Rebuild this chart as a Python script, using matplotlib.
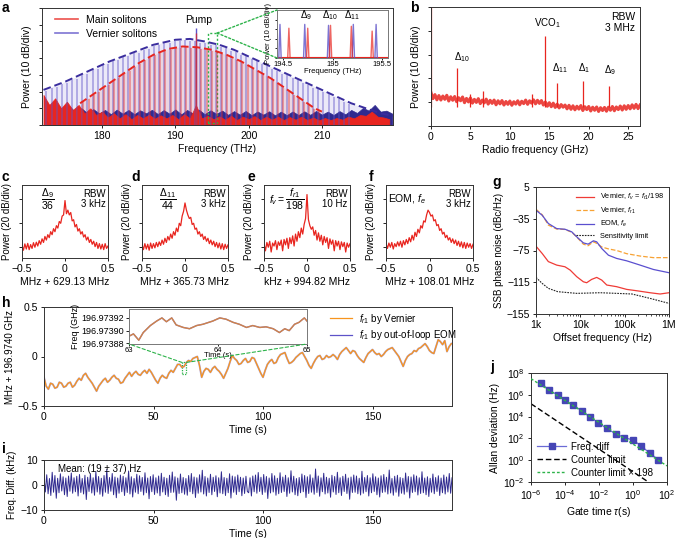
import numpy as np
import matplotlib
matplotlib.use("Agg")
import matplotlib.pyplot as plt
from matplotlib.patches import Rectangle, ConnectionPatch
from matplotlib.ticker import FormatStrFormatter, NullFormatter

plt.rcParams["font.family"] = ["Liberation Sans", "DejaVu Sans"]
plt.rcParams["mathtext.fontset"] = "custom"
plt.rcParams["mathtext.rm"] = "Liberation Sans"
plt.rcParams["mathtext.it"] = "Liberation Sans:italic"
plt.rcParams["font.size"] = 7.5
plt.rcParams["axes.linewidth"] = 0.7
plt.rcParams["axes.edgecolor"] = "#333333"
plt.rcParams["xtick.major.size"] = 2.5
plt.rcParams["ytick.major.size"] = 2.5
plt.rcParams["xtick.major.width"] = 0.6
plt.rcParams["ytick.major.width"] = 0.6
plt.rcParams["xtick.major.pad"] = 2
plt.rcParams["ytick.major.pad"] = 2

RED = "#e8251f"
NAVY = "#2f2a8f"
LBLUE = "#5d52c8"
ORANGE = "#f7941d"
GREEN = "#2db34a"

# ----------------------------
# Data: panel a (optical spectrum)
# ----------------------------
blue_env_f = [172, 175, 178, 181, 184, 187, 190, 192, 194, 196, 198, 200, 202,
              204, 206, 208, 210, 212, 214, 216, 218, 219.7]
blue_env_p = [21, 26, 32, 38, 43, 48, 51, 51.5, 50, 48, 45, 41, 37,
              33, 29, 25, 21, 17, 13, 10, 7, 5.5]
red_env_f = [177, 179, 181, 183, 185, 187, 189, 191, 193, 195, 197, 199, 201,
             203, 205, 207, 209, 210]
red_env_p = [13, 19, 25, 31, 37, 42, 45.5, 47, 46.5, 45, 42, 38, 33,
             28, 22, 16, 10, 8]

blue_line_start = 172.4
red_line_start = 176.75
line_step = 0.7
blue_lines = [20.5, 22, 22.5, 24.6, 25, 27, 27.8, 30, 30.5, 32.8,
              33.5, 35.6, 36.2, 38.2, 38.8, 40.5, 41, 42.8, 43.2, 45,
              45.6, 47.5, 47.6, 48.8, 49.2, 50.2, 50, 50.6, 50.2, 50.4,
              49.2, 49.3, 48, 47.8, 46.5, 46, 44.5, 43.8, 42, 41,
              39.2, 38.2, 36.4, 35.4, 33.6, 32.6, 30.8, 29.8, 28, 27,
              25.2, 24.2, 22.4, 21.4, 19.6, 18.5, 16.8, 15.6, 14, 12.8]
red_lines = [11.5, 13.8, 15.6, 18, 19.8, 22.2, 24, 26.4, 28.2, 30.6,
             32.4, 34.8, 36.5, 38.6, 40, 41.8, 42.9, 44.3, 45, 45.8,
             46, 46.4, 45.8, 46, 45.2, 45, 44.2, 43.5, 42.2, 41.4,
             39.6, 38.6, 36.8, 35.4, 33.3, 31.9, 29.8, 28.4, 26.2, 24.4,
             22, 20.2, 17.8, 16, 13.6, 11.7, 9.4, 8.2]

floor_step = 0.8
red_floor = [18, 12, 16, 10, 14, 9, 12, 7, 10, 6,
             8, 4.5, 7, 4, 6.5, 3.5, 6, 4, 6.2, 3.8,
             5.8, 4, 6, 3.5, 6.5, 4, 12, 4, 5.5, 3.5,
             5.2, 3.2, 5.5, 3, 5, 3.5, 5.3, 3, 5, 3.2,
             5, 3, 4.8, 3.2, 5, 3, 4.5, 2.8, 4.2, 3,
             4.2, 3.2, 5, 4, 6, 5.5, 8, 5, 4.5, 3.5]
blue_floor = [14, 9, 12, 8, 11, 7.5, 10, 7, 9.5, 7,
              9, 6.5, 9.2, 6.8, 9, 6.5, 8.8, 7, 9.1, 6.6,
              8.9, 6.8, 9.3, 6.4, 9, 6.9, 9.2, 6.5, 8.8, 6.7,
              8.6, 6.1, 8.3, 6.2, 8.4, 5.9, 8.1, 6.2, 8.2, 5.8,
              8.0, 5.9, 8.1, 6.0, 8.2, 6.1, 8.4, 6.2, 8.0, 6.0,
              8.3, 6.4, 9.0, 7.2, 10.2, 8.6, 12.0, 8.0, 8.6, 6.8]
pump_f = 192.75
pump_blue = 58
pump_red = 55

# inset of a
inset_blue_f = [194.47, 194.72, 194.96, 195.21, 195.44]
inset_blue_p = [35, 35, 34, 35, 35]
inset_red_f = [194.56, 194.75, 194.98, 195.19, 195.40]
inset_red_p = [31, 31, 34, 33, 28]
inset_labels = [(194.73, r"$\Delta_9$"), (194.97, r"$\Delta_{10}$"),
                (195.20, r"$\Delta_{11}$")]

# ----------------------------
# Data: panel b (RF spectrum)
# ----------------------------
b_step = 0.25
b_floor = [14, 11.5, 13.2, 11, 12.8, 10.9, 12.6, 11.2, 12.9, 10.5, 12.3,
           10.8, 12.4, 10.2, 11.9, 10.6, 12.2, 9.8, 11.6, 10.1, 11.8,
           9.6, 11.2, 9.9, 11.5, 9.4, 10.9, 9.7, 11.3, 9.2, 10.8,
           9.5, 10.9, 8.9, 10.6, 9.3, 10.7, 8.8, 10.3, 9.1, 10.5,
           8.7, 10.2, 9.2, 10.6, 8.9, 10.4, 9.4, 10.9, 9.1, 10.6,
           9.6, 11.0, 9.3, 10.8, 9.5, 10.7, 8.8, 10.1, 8.3, 9.8,
           8.1, 9.6, 7.8, 9.2, 7.6, 9.0, 7.9, 8.8, 7.2, 8.7,
           7.0, 8.5, 6.8, 8.3, 7.1, 8.6, 6.5, 8.1, 6.9, 8.2,
           6.3, 7.9, 6.6, 8.0, 6.1, 7.7, 6.5, 7.8, 6.2, 7.9,
           6.6, 8.2, 6.4, 8.0, 6.9, 8.4, 6.7, 8.5, 7.0, 8.6,
           7.2, 8.9, 7.4, 9.1, 7.3, 8.8]
b_spike_f = [0.02, 3.34, 4.9, 6.6, 12.75, 14.45, 16.0, 19.3, 22.6]
b_spike_p = [52, 24.4, 13.5, 14.7, 13.3, 38, 18, 19, 16.8]
b_labels = [(14.8, 40.5, r"VCO$_1$"), (3.9, 26, r"$\Delta_{10}$"),
            (16.3, 21.5, r"$\Delta_{11}$"), (19.4, 21.5, r"$\Delta_1$"),
            (22.7, 20.5, r"$\Delta_9$")]

# ----------------------------
# Data: panels c-f (beat notes, 61 points over -0.5..0.5)
# ----------------------------
c_vals = [1.5, -2.5, 2.8, -1.5, 3.2, -2, 2.2, -1, 3.8, 0,
          4.2, 1, 5.5, 2.5, 7, 4, 9, 6, 10.5, 8,
          13, 10.5, 15.5, 13, 18, 16, 21.5, 20, 26, 27,
          39, 28, 31, 27, 29, 22, 23, 17, 19, 13.5,
          15.5, 11, 13, 8.5, 10.5, 6, 8.5, 4, 6.5, 2.5,
          5, 0.5, 4, -1, 3, -1.5, 2.5, -2, 3, -1, 1]
d_vals = [2, -2, 3, -1.5, 2.5, -2.5, 3.5, -1, 3, -0.5,
          4, 0.5, 4.5, 1.5, 6, 2.5, 7.5, 4, 9, 6,
          11, 7.5, 13, 10, 16, 13, 20, 18, 26, 30,
          37, 31, 27, 24, 25, 19, 20, 15, 16, 11,
          13, 9, 11, 6.5, 9, 5, 7.5, 3, 6, 2,
          5, 0.5, 4, -0.5, 3.5, -1.5, 3, -2, 2.5, -1, 2]
e_vals = [3, -3, 4, 0, 5, -4, 3.5, 1, 5.5, -2,
          4.5, 1.5, 6, -3, 6.5, 2, 7.5, -1, 8, 3,
          9.5, 1, 11, 5, 13, 8, 16, 11, 19, 24,
          44, 23, 18, 15, 17, 10, 14, 6, 12, 5,
          10, 2, 9, 4, 8, -1, 7, 2.5, 6, -3,
          5.5, 1, 5, -2, 4.5, 0.5, 4, -4, 3.5, 0, 3]
f_vals = [3, -1, 3.5, 0, 4, -1.5, 3, 0.5, 4.5, 1,
          5, 0, 5.5, 2, 6.5, 3, 8, 4.5, 10, 6,
          12.5, 9, 15, 12, 18, 16, 22, 21, 27, 31,
          29, 26, 27, 22, 23, 18, 19, 14, 15.5, 11,
          12.5, 8, 10, 6, 8, 4, 7, 3, 6, 1.5,
          5, 0.5, 4.5, -0.5, 4, -1, 3.5, 0, 3, -1, 2.5]

# ----------------------------
# Data: panel g (phase noise)
# ----------------------------
g_red_f = [1e3, 1.38e3, 1.9e3, 2.93e3, 4.5e3, 5.9e3, 8.3e3, 11.7e3, 13.9e3,
           18e3, 23.4e3, 30.4e3, 39.5e3, 66e3, 111e3, 187e3, 372e3, 630e3, 1e6]
g_red_p = [-69.6, -78.8, -89, -93.4, -95.5, -99.7, -108, -114.4, -115.6,
           -111.4, -108.9, -112.3, -118.5, -120.6, -124, -125.7, -128.2, -129.8, -128.2]
g_blue_f = [1e3, 1.38e3, 1.9e3, 2.93e3, 4.5e3, 6.4e3, 8.3e3, 11.7e3, 15e3,
            19.7e3, 23.4e3, 30.4e3, 43e3, 66e3, 111e3, 223e3, 445e3, 1e6]
g_blue_p = [-24.3, -30.6, -41, -47.4, -48.2, -51.5, -57.8, -65.4, -67,
            -62.8, -64.1, -72.5, -80.9, -85, -88, -93.4, -98.9, -103]
g_orange_f = [1e3, 1.38e3, 1.9e3, 2.93e3, 4.5e3, 6.4e3, 8.3e3, 11.7e3, 15e3,
              19.7e3, 23.4e3, 30.4e3, 43e3, 66e3, 111e3, 223e3, 445e3, 1e6]
g_orange_p = [-23, -30, -43, -48, -48.5, -52, -58, -67, -69,
              -64, -66, -70.5, -73, -75, -79, -82, -84, -84]
g_sens_f = [1e3, 1.38e3, 1.9e3, 3.1e3, 8.3e3, 28e3, 66e3, 146e3, 372e3, 1e6]
g_sens_p = [-108.9, -116.5, -122.7, -126.9, -129, -128.2, -129, -129.8, -135.3, -141.6]

# ----------------------------
# Data: panel h (repetition rate vs time, 1 s steps)
# ----------------------------
h_vals = [-0.21, -0.30, -0.33, -0.27, -0.28, -0.32, -0.31, -0.26, -0.27, -0.31,
          -0.30, -0.27, -0.26, -0.31, -0.29, -0.25, -0.22, -0.24, -0.19, -0.17,
          -0.21, -0.24, -0.27, -0.31, -0.35, -0.30, -0.27, -0.24, -0.22, -0.26,
          -0.24, -0.21, -0.19, -0.22, -0.23, -0.27, -0.26, -0.22, -0.19, -0.16,
          -0.20, -0.17, -0.15, -0.18, -0.19, -0.16, -0.14, -0.17, -0.13, -0.16,
          -0.20, -0.24, -0.27, -0.22, -0.19, -0.21, -0.22, -0.17, -0.14, -0.16,
          -0.12, -0.08, -0.08, -0.11, -0.10, -0.06, -0.04, -0.05, -0.02, -0.01,
          0.00, -0.09, -0.21, -0.15, -0.12, -0.13, -0.16, -0.12, -0.10, -0.13,
          -0.15, -0.18, -0.22, -0.17, -0.12, -0.05, 0.01, -0.02, -0.04, -0.08,
          -0.07, -0.04, -0.02, -0.06, -0.05, -0.01, -0.02, -0.07, -0.12, -0.17,
          -0.21, -0.14, -0.08, -0.05, -0.03, -0.07, -0.06, -0.01, 0.02, 0.03,
          0.04, -0.02, -0.07, -0.06, -0.04, -0.01, 0.01, 0.03, 0.04, 0.00,
          -0.04, -0.09, -0.12, -0.07, -0.03, 0.00, 0.01, -0.03, -0.02, 0.01,
          -0.01, 0.00, 0.02, 0.00, -0.03, 0.02, 0.05, 0.07, 0.09, 0.06,
          0.03, 0.06, 0.05, 0.01, -0.02, -0.04, -0.06, -0.01, 0.03, 0.05,
          0.07, 0.04, 0.02, 0.03, 0.00, 0.02, 0.05, 0.07, 0.08, 0.09,
          0.06, 0.03, 0.00, -0.05, -0.10, -0.04, 0.00, 0.02, 0.03, 0.06,
          0.05, 0.08, 0.09, 0.11, 0.13, 0.10, 0.06, 0.04, 0.03, 0.10,
          0.17, 0.15, 0.12, 0.16, 0.05, 0.10, 0.13]

# inset of h (GHz, 63 s to 65 s)
hi_vals = [196.9738912, 196.9738949, 196.973885, 196.973897, 196.973908,
           196.973915, 196.97392, 196.973914, 196.97392, 196.973909,
           196.973905, 196.973903, 196.973908, 196.97391, 196.973915,
           196.97392, 196.973918, 196.973913, 196.97391, 196.973905,
           196.973908, 196.973905, 196.973906, 196.973903, 196.973897,
           196.973903, 196.9739, 196.97391, 196.973913, 196.97392, 196.973915]
hi_time = [63.0, 63.05, 63.11, 63.16, 63.24, 63.31, 63.37, 63.42, 63.48, 63.53,
           63.61, 63.68, 63.76, 63.83, 63.94, 64.02, 64.09, 64.17, 64.24, 64.32,
           64.39, 64.47, 64.54, 64.62, 64.69, 64.75, 64.8, 64.86, 64.91, 64.97, 65.0]

# ----------------------------
# Data: panel i (frequency difference, kHz)
# ----------------------------
i_vals = [3.2, -2.8, 4.1, -3.5, 2.6, -4.2, 5.1, -2.9, 3.8, -5.3,
          2.7, -3.1, 4.5, -2.4, 3.3, -3.9, 2.8, -4.6, 3.6, -2.5,
          4.8, -3.3, 2.9, -2.7, 3.5, -4.4, 4.2, -3.0, 2.6, -3.6,
          3.9, -5.8, 3.1, -2.6, 4.4, -3.2, 2.9, -4.1, 5.4, -2.8,
          3.4, -3.7, 2.7, -4.5, 3.8, -2.9, 6.2, -3.4, 3.0, -2.5,
          4.6, -3.9, 3.2, -5.1, 2.8, -3.3, 4.0, -2.7, 3.5, -4.2,
          2.9, -3.0, 5.6, -3.6, 3.3, -4.8, 2.6, -2.9, 4.3, -3.5,
          3.7, -2.6, 3.0, -4.0, 4.9, -3.1, 2.8, -5.5, 3.4, -2.7,
          4.1, -3.8, 2.9, -3.2, 3.6, -4.3, 4.7, -2.8, 3.1, -3.9,
          2.7, -4.6, 3.9, -3.0, 5.2, -2.9, 3.3, -6.1, 2.8, -3.4,
          4.4, -3.1, 3.0, -3.7, 2.6, -4.1, 3.8, -2.7, 4.6, -3.5,
          3.2, -5.0, 2.9, -3.3, 4.1, -2.8, 5.9, -3.6, 3.4, -4.4,
          2.8, -3.0, 4.3, -3.9, 3.1, -2.6, 3.7, -4.7, 2.9, -3.2,
          5.3, -3.5, 3.0, -4.2, 2.7, -3.1, 4.5, -5.2, 3.6, -2.9,
          3.3, -3.8, 4.0, -2.7, 3.1, -4.3, 2.8, -3.4, 3.5, -2.6,
          -3.1, 2.9, -4.4, 3.6, -2.7, 4.0, -3.3, 5.0, -2.6, 3.1,
          -3.8, 4.2, -2.9, 3.4, -5.4, 2.8, -3.2, 4.6, -2.8, 3.7,
          -4.1, 2.7, -3.5, 4.9, -3.0, 3.2, -2.6, 3.9, -4.6, 2.9,
          -3.3, 5.7, -2.8, 3.5, -3.9, 2.6, -4.3, 3.0, -3.1, 4.4,
          -2.7, 3.8, -5.0, 3.3, -3.4, 4.1, -2.9, 2.8, -3.7, 6.4,
          -3.0, 3.6, -4.5, 2.9, -2.7, 4.7, -3.6, 3.1, -3.2, 2.7,
          -4.9, 3.9, -2.8, 3.4, -3.8, 5.1, -3.1, 2.9, -4.2, 3.5,
          -2.6, 4.3, -3.4, 2.8, -5.7, 3.2, -3.0, 4.0, -2.9, 3.6,
          -3.5, 2.7, -4.0, 5.5, -3.3, 3.0, -2.7, 3.8, -4.4, 2.9,
          -3.1, 4.5, -2.6, 3.3, -3.9, 2.8, -4.8, 3.7, -3.0, 4.2,
          -2.8, 3.1, -3.6, 6.0, -3.2, 2.6, -4.1, 3.5, -2.9, 3.9,
          -4.5, 3.0, -3.3, 2.7, -3.7, 4.8, -2.8, 3.4, -5.2, 3.2,
          -3.0, 4.1, -2.7, 3.6, -4.0, 2.9, -3.4, 5.3, -3.1, 2.8,
          -3.9, 3.3, -4.6, 2.7, -2.9, 4.4, -3.5, 3.0, -2.6, 3.7,
          -4.2, 2.8, -3.1, 4.0, -3.6, 3.2, -2.8, 4.6, -3.3, 2.9]

# ----------------------------
# Data: panel j (Allan deviation)
# ----------------------------
j_tau = [4e-6, 1.2e-5, 3.7e-5, 1e-4, 3.1e-4, 9.5e-4, 3e-3, 9e-3, 2.8e-2,
         0.1, 0.31, 1.0, 3.1, 10, 31]
j_adev = [1.2e7, 2.5e6, 1e6, 3e5, 1.2e5, 3.3e4, 8.7e3, 2.8e3, 8.3e2,
          2.5e2, 1.2e2, 7e1, 2e1, 4.2, 1.15]
j_counter_tau = [1e-6, 8]
j_counter = [1.5e5, 1e-2]
j_counter198_tau = [1e-6, 100]
j_counter198 = [3e7, 0.3]

# ----------------------------
# Figure
# ----------------------------
W, H = 675, 538
fig = plt.figure(figsize=(W / 100, H / 100), dpi=100)


def box(l, t, r, b):
    return fig.add_axes([l / W, 1 - b / H, (r - l) / W, (b - t) / H])


def panel_label(x, y, s):
    fig.text(x / W, 1 - y / H, s, fontsize=10, fontweight="bold",
             ha="left", va="center")


# ---- a ----
ax = box(42, 8, 393, 125)
ax.fill_between(blue_env_f, 0, blue_env_p, color=LBLUE, alpha=0.12, lw=0)
ax.fill_between(red_env_f, 0, red_env_p, color=RED, alpha=0.10, lw=0)
fx = [172 + 0.4 + floor_step * k for k in range(len(blue_floor))]
ax.fill_between(fx, 0, blue_floor, color=NAVY, lw=0.5)
bx = [blue_line_start + line_step * k for k in range(len(blue_lines))]
ax.vlines(bx, 0, blue_lines, color=LBLUE, lw=1.3, alpha=0.45)
rx = [red_line_start + line_step * k for k in range(len(red_lines))]
ax.vlines(rx, 0, red_lines, color=RED, lw=1.3, alpha=0.4)
fx = [172 + floor_step * k for k in range(len(red_floor))]
ax.fill_between(fx, 0, red_floor, color=RED, lw=0.5)
ax.vlines([pump_f], 0, [pump_blue], color=LBLUE, lw=1.0)
ax.vlines([pump_f + 0.1], 0, [pump_red], color=RED, lw=1.0, alpha=0.7)
ax.plot(blue_env_f, blue_env_p, "--", color="#3a2d9e", lw=1.4, dashes=(4, 2))
ax.plot(red_env_f, red_env_p, "--", color=RED, lw=1.4, dashes=(4, 2))
ax.plot([], [], color=RED, lw=1.2, alpha=0.8, label="Main solitons")
ax.plot([], [], color=LBLUE, lw=1.2, alpha=0.8, label="Vernier solitons")
ax.legend(loc="upper left", bbox_to_anchor=(0.01, 1.02), frameon=False,
          fontsize=7.5, handlelength=2.2, labelspacing=0.35)
ax.text(pump_f + 0.4, 60, "Pump", ha="center", va="bottom", fontsize=7.5)
ax.add_patch(Rectangle((194.5, 1), 1.2, 54, fill=False, ec=GREEN,
                       ls=(0, (1.5, 1.5)), lw=1.0))
ax.set_xlim(171.8, 219.7)
ax.set_ylim(0, 70)
ax.set_xticks([180, 190, 200, 210])
ax.set_yticks(range(0, 71, 10))
ax.set_yticklabels([])
ax.set_xlabel("Frequency (THz)", labelpad=2)
ax.set_ylabel("Power (10 dB/div)", labelpad=3)
ax_a = ax

axi = box(277, 10, 388, 58)
axi.plot([194.44, 195.56], [1, 1], color=RED, lw=0.8)
for c, p in zip(inset_blue_f, inset_blue_p):
    axi.plot([c - 0.012, c, c + 0.012], [0, p, 0], color=LBLUE, lw=1.0, alpha=0.8)
for c, p in zip(inset_red_f, inset_red_p):
    axi.plot([c - 0.012, c, c + 0.012], [0, p, 0], color=RED, lw=1.0, alpha=0.7)
for x, s in inset_labels:
    axi.text(x, 38, s, ha="center", va="bottom", fontsize=7)
axi.set_xlim(194.44, 195.56)
axi.set_ylim(0, 50)
axi.set_xticks([194.5, 195, 195.5])
axi.set_xticklabels(["194.5", "195", "195.5"])
axi.set_yticks(range(0, 51, 10))
axi.set_yticklabels([])
axi.tick_params(labelsize=5.5, length=1.5, pad=1)
axi.set_xlabel("Frequency (THz)", fontsize=5.5, labelpad=0)
axi.set_ylabel("Power (10 dB/div)", fontsize=5.5, labelpad=1)
for spine in axi.spines.values():
    spine.set_edgecolor("#777777")
for yb in (1.0, 0.0):
    con = ConnectionPatch(xyA=(195.7, 55), coordsA="data", axesA=ax_a,
                          xyB=(0, yb), coordsB="axes fraction", axesB=axi,
                          color=GREEN, ls=(0, (1.5, 1.5)), lw=1.0)
    fig.add_artist(con)

# ---- b ----
ax = box(431, 7, 640, 126)
bfx = [b_step * k for k in range(len(b_floor))]
ax.plot(bfx, b_floor, color=RED, lw=2.2, alpha=0.85)
ax.vlines(b_spike_f, 8, b_spike_p, color=RED, lw=0.9)
for x, y, s in b_labels:
    ax.text(x, y, s, ha="center", va="bottom", fontsize=7)
ax.text(0.975, 0.96, "RBW\n3 MHz", transform=ax.transAxes, ha="right",
        va="top", fontsize=7.5, linespacing=1.1)
ax.set_xlim(0, 26.5)
ax.set_ylim(0, 50)
ax.set_xticks([0, 5, 10, 15, 20, 25])
ax.set_yticks(range(0, 51, 10))
ax.set_yticklabels([])
ax.set_xlabel("Radio frequency (GHz)", labelpad=2)
ax.set_ylabel("Power (10 dB/div)", labelpad=3)

# ---- c-f ----
beat_panels = [
    ((22, 185, 108, 258), c_vals, r"$\dfrac{\Delta_9}{36}$", (0.30, 0.80),
     "RBW\n3 kHz", "MHz + 629.13 MHz"),
    ((142, 185, 228, 258), d_vals, r"$\dfrac{\Delta_{11}}{44}$", (0.30, 0.80),
     "RBW\n3 kHz", "MHz + 365.73 MHz"),
    ((264, 185, 350, 258), e_vals, r"$f_v=\dfrac{f_{r1}}{198}$", (0.26, 0.80),
     "RBW\n10 Hz", "kHz + 994.82 MHz"),
    ((386, 185, 473, 258), f_vals, r"EOM, $f_e$", (0.24, 0.80),
     "RBW\n3 kHz", "MHz + 108.01 MHz"),
]
for rect, vals, lab, lpos, rbw, xl in beat_panels:
    ax = box(*rect)
    xs = np.linspace(-0.5, 0.5, len(vals))
    ax.plot(xs, vals, color=RED, lw=0.9)
    ax.text(lpos[0], lpos[1], lab, transform=ax.transAxes, ha="center",
            va="center", fontsize=7.5)
    ax.text(0.97, 0.95, rbw, transform=ax.transAxes, ha="right", va="top",
            fontsize=7, linespacing=1.1)
    ax.set_xlim(-0.5, 0.5)
    ax.set_ylim(-9, 52)
    ax.set_xticks([-0.5, 0, 0.5])
    ax.set_xticklabels(["\u22120.5", "0", "0.5"])
    ax.set_yticks([0, 20, 40])
    ax.set_yticklabels([])
    ax.set_xlabel(xl, labelpad=2)
    ax.set_ylabel("Power (20 dB/div)", labelpad=3, fontsize=7)

# ---- g ----
ax = box(536, 187, 669, 314)
ax.plot(g_red_f, g_red_p, color="#ef3b36", lw=0.9,
        label=r"Vernier, $f_v$ = $f_{r1}$/198")
ax.plot(g_orange_f, g_orange_p, "--", color="#f7a234", lw=0.9,
        label=r"Vernier, $f_{r1}$")
ax.plot(g_blue_f, g_blue_p, color="#5a4fcf", lw=0.9, label=r"EOM, $f_e$")
ax.plot(g_sens_f, g_sens_p, color="#222222", lw=0.8, ls=(0, (1.5, 1)),
        label="Sensitivity limit")
ax.set_xscale("log")
ax.set_xlim(1e3, 1e6)
ax.set_ylim(-155, 5)
ax.set_yticks([5, -35, -75, -115, -155])
ax.set_yticklabels(["5", "\u221235", "\u221275", "\u2212115", "\u2212155"])
ax.set_xticks([1e3, 1e4, 1e5, 1e6])
ax.set_xticklabels(["1k", "10k", "100k", "1M"])
ax.xaxis.set_minor_formatter(NullFormatter())
ax.tick_params(which="minor", length=1.5, width=0.5)
ax.legend(loc="upper right", frameon=False, fontsize=5.3, handlelength=2.5,
          labelspacing=0.45, borderaxespad=0.3)
ax.set_xlabel("Offset frequency (Hz)", labelpad=2)
ax.set_ylabel("SSB phase noise (dBc/Hz)", labelpad=2, fontsize=7)

# ---- h ----
ax = box(44, 307, 452, 406)
ht = np.arange(len(h_vals))
ax.plot(ht, h_vals, color=LBLUE, lw=1.4, alpha=0.5)
ax.plot(ht, h_vals, color=ORANGE, lw=0.9)
ax.plot([], [], color=ORANGE, lw=0.9, label=r"$f_{r1}$ by Vernier")
ax.plot([], [], color=LBLUE, lw=0.9, label=r"$f_{r1}$ by out-of-loop EOM")
ax.legend(loc="upper left", bbox_to_anchor=(0.68, 1.04), frameon=False,
          fontsize=7, handlelength=2.2, labelspacing=0.25)
ax.add_patch(Rectangle((63, -0.18), 2, 0.12, fill=False, ec=GREEN,
                       ls=(0, (1, 1)), lw=0.9))
ax.set_xlim(0, 186.3)
ax.set_ylim(-0.5, 0.5)
ax.set_xticks([0, 50, 100, 150])
ax.set_yticks([-0.5, 0, 0.5])
ax.set_yticklabels(["\u22120.5", "0", "0.5"])
ax.set_xlabel("Time (s)", labelpad=2)
ax.set_ylabel("MHz + 196.9740 GHz", labelpad=2, fontsize=7)
ax_h = ax

axh = box(129, 309, 307, 344)
axh.plot(hi_time, hi_vals, color=LBLUE, lw=1.0)
axh.plot(hi_time, hi_vals, color=ORANGE, lw=1.0, alpha=0.75)
axh.set_xlim(63, 65)
axh.set_ylim(196.973879, 196.973934)
axh.set_xticks([63, 64, 65])
axh.set_yticks([196.97388, 196.97390, 196.97392])
axh.yaxis.set_major_formatter(FormatStrFormatter("%.5f"))
axh.tick_params(axis="x", labelsize=5.5, length=1.5, pad=0.5)
axh.tick_params(axis="y", labelsize=6.5, length=2, pad=1.5)
axh.set_xlabel("Time (s)", fontsize=5.5, labelpad=-1)
axh.set_ylabel("Freq (GHz)", fontsize=6.5, labelpad=1)
for spine in axh.spines.values():
    spine.set_edgecolor("#777777")
for xa, xb in ((63, 0.0), (65, 1.0)):
    con = ConnectionPatch(xyA=(xa, -0.06), coordsA="data", axesA=ax_h,
                          xyB=(xb, 0.0), coordsB="axes fraction", axesB=axh,
                          color=GREEN, ls=(0, (3, 2)), lw=0.8)
    fig.add_artist(con)

# ---- i ----
ax = box(44, 460, 452, 510)
ax.plot(np.linspace(0, 186.3, len(i_vals)), i_vals, color=NAVY, lw=0.7)
ax.text(0.035, 0.93, "Mean: (19 \u00b1 37) Hz", transform=ax.transAxes,
        ha="left", va="top", fontsize=7)
ax.set_xlim(0, 186.3)
ax.set_ylim(-10, 10)
ax.set_xticks([0, 50, 100, 150])
ax.set_yticks([-10, 0, 10])
ax.set_yticklabels(["\u221210", "0", "10"])
ax.set_xlabel("Time (s)", labelpad=2)
ax.set_ylabel("Freq. Diff. (kHz)", labelpad=2, fontsize=7)

# ---- j ----
ax = box(531, 373, 667, 482)
ax.plot(j_counter198_tau, j_counter198, color=GREEN, lw=1.0, ls=(0, (2, 1.5)),
        zorder=3, label="Counter limit \u00d7 198")
ax.plot(j_counter_tau, j_counter, color="black", lw=1.0, ls=(0, (4, 2)),
        label="Counter limit")
ax.plot(j_tau, j_adev, color="#6b6bd6", lw=0.9, marker="s", ms=4,
        mfc="#4545b5", mec="#4545b5", label="Freq. diff", zorder=2)
h_, l_ = ax.get_legend_handles_labels()
ax.legend([h_[2], h_[1], h_[0]], [l_[2], l_[1], l_[0]], loc="lower left",
          bbox_to_anchor=(-0.02, -0.04), frameon=False, fontsize=7,
          handlelength=3, labelspacing=0.3, handletextpad=0.5)
ax.set_xscale("log")
ax.set_yscale("log")
ax.set_xlim(1e-6, 1e2)
ax.set_ylim(1e-2, 1e8)
ax.set_xticks([1e-6, 1e-4, 1e-2, 1e0, 1e2])
ax.set_yticks([1e-2, 1e0, 1e2, 1e4, 1e6, 1e8])
ax.minorticks_off()
ax.set_xlabel(r"Gate time $\tau$(s)", labelpad=2)
ax.set_ylabel("Allan deviation (Hz)", labelpad=2)

# ---- panel letters ----
panel_label(2, 8, "a")
panel_label(410, 8, "b")
panel_label(2, 177, "c")
panel_label(131, 177, "d")
panel_label(248, 177, "e")
panel_label(369, 177, "f")
panel_label(492, 182, "g")
panel_label(2, 303, "h")
panel_label(2, 449, "i")
panel_label(490, 367, "j")

fig.savefig("out.png", dpi=100)
